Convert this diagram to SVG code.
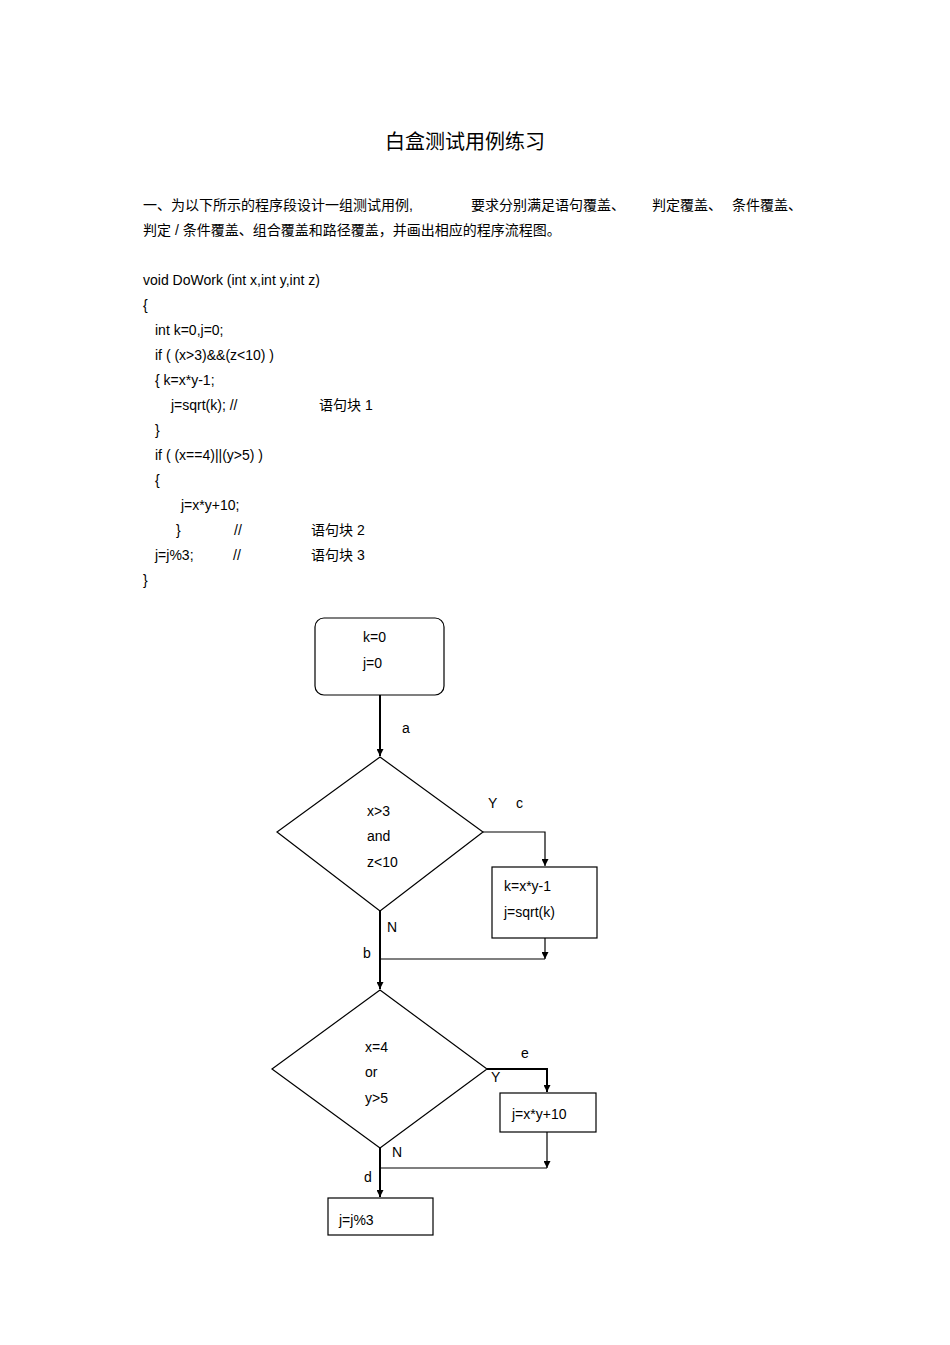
<svg xmlns="http://www.w3.org/2000/svg" width="950" height="1345" viewBox="0 0 950 1345">
<defs>
<marker id="ar" viewBox="0 0 10 10" refX="10" refY="5" markerWidth="7" markerHeight="7" orient="auto" markerUnits="userSpaceOnUse"><path d="M0,0L10,5L0,10z" fill="#000"/></marker>
<style>
text{font-family:"Liberation Sans","Noto Sans CJK SC",sans-serif;font-size:14px;fill:#000}
.t{font-size:20px}
.s{fill:#fff;stroke:#000;stroke-width:1.2}
.c{fill:none;stroke:#000;stroke-width:1.2}
.b{fill:none;stroke:#000;stroke-width:2}
</style>
</defs>
<rect width="950" height="1345" fill="#fff"/>
<text class="t" x="465" y="149" text-anchor="middle">白盒测试用例练习</text>
<text x="143" y="210">一、为以下所示的程序段设计一组测试用例,</text>
<text x="471" y="210">要求分别满足语句覆盖、</text>
<text x="652" y="210">判定覆盖、</text>
<text x="732" y="210">条件覆盖、</text>
<text x="143" y="235">判定 / 条件覆盖、组合覆盖和路径覆盖，并画出相应的程序流程图。</text>
<text x="143" y="285">void  DoWork (int x,int y,int z)</text>
<text x="143" y="310">{</text>
<text x="155" y="335">int  k=0,j=0;</text>
<text x="155" y="360">if ( (x&gt;3)&amp;&amp;(z&lt;10) )</text>
<text x="155" y="385">{   k=x*y-1;</text>
<text x="171" y="410">j=sqrt(k);  //</text>
<text x="319" y="410">语句块   1</text>
<text x="155" y="435">}</text>
<text x="155" y="460">if ( (x==4)||(y&gt;5) )</text>
<text x="155" y="485">{</text>
<text x="181" y="510">j=x*y+10;</text>
<text x="176" y="535">}</text>
<text x="234" y="535">//</text>
<text x="311" y="535">语句块  2</text>
<text x="155" y="560">j=j%3;</text>
<text x="233" y="560">//</text>
<text x="311" y="560">语句块   3</text>
<text x="143" y="585">}</text>
<g id="connectors">
<path class="b" d="M380,695V756" marker-end="url(#ar)"/>
<path class="c" d="M483,832H545V866" marker-end="url(#ar)"/>
<path class="c" d="M545,938V959" marker-end="url(#ar)"/>
<path class="c" d="M380,959H545"/>
<path class="b" d="M380,911V989" marker-end="url(#ar)"/>
<path class="b" d="M487,1069H547V1092" marker-end="url(#ar)"/>
<path class="c" d="M547,1132V1168" marker-end="url(#ar)"/>
<path class="c" d="M380,1168H547"/>
<path class="b" d="M380,1148V1197" marker-end="url(#ar)"/>
<text x="402" y="733">a</text>
<text x="488" y="808">Y</text>
<text x="516" y="808">c</text>
<text x="387" y="932">N</text>
<text x="363" y="958">b</text>
<text x="521" y="1058">e</text>
<text x="491" y="1082">Y</text>
<text x="392" y="1157">N</text>
<text x="364" y="1182">d</text>
</g>
<g id="start"><rect class="s" x="315" y="618" width="129" height="77" rx="9"/><text x="363" y="642">k=0</text><text x="363" y="668">j=0</text></g>
<g id="dec1"><polygon class="s" points="380,757 483,832 380,911 277,832"/><text x="367" y="816">x&gt;3</text><text x="367" y="841">and</text><text x="367" y="867">z&lt;10</text></g>
<g id="blk1"><rect class="s" x="492" y="867" width="105" height="71"/><text x="504" y="891">k=x*y-1</text><text x="504" y="917">j=sqrt(k)</text></g>
<g id="dec2"><polygon class="s" points="380,990 487,1069 380,1148 272,1069"/><text x="365" y="1052">x=4</text><text x="365" y="1077">or</text><text x="365" y="1103">y&gt;5</text></g>
<g id="blk2"><rect class="s" x="500" y="1093" width="96" height="39"/><text x="512" y="1119">j=x*y+10</text></g>
<g id="blk3"><rect class="s" x="328" y="1198" width="105" height="37"/><text x="339" y="1225">j=j%3</text></g>
</svg>
